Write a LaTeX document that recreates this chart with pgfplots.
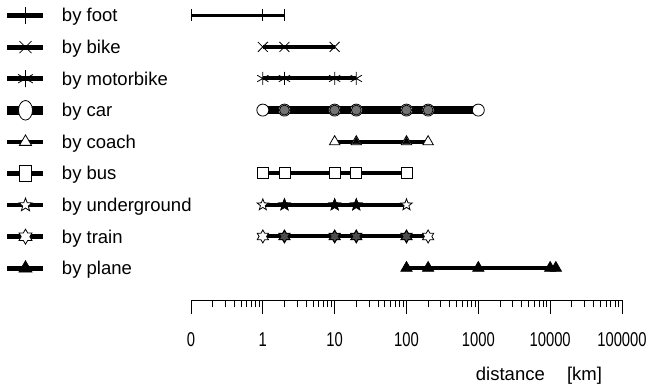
\documentclass[border=0pt]{standalone}
\usepackage{fontspec}
\setmainfont{Liberation Sans}
\usepackage{graphicx}
\usepackage{pgfplots}
\usepackage{pgfplotstable}
\pgfplotsset{compat=1.18}
\tikzset{mk/.style={solid, line width=0.8pt, draw=black}}

\pgfdeclareplotmark{star5}{%
  \pgfpathmoveto{\pgfpointpolar{90}{\pgfplotmarksize}}%
  \pgfpathlineto{\pgfpointpolar{126}{0.42\pgfplotmarksize}}%
  \pgfpathlineto{\pgfpointpolar{162}{\pgfplotmarksize}}%
  \pgfpathlineto{\pgfpointpolar{198}{0.42\pgfplotmarksize}}%
  \pgfpathlineto{\pgfpointpolar{234}{\pgfplotmarksize}}%
  \pgfpathlineto{\pgfpointpolar{270}{0.42\pgfplotmarksize}}%
  \pgfpathlineto{\pgfpointpolar{306}{\pgfplotmarksize}}%
  \pgfpathlineto{\pgfpointpolar{342}{0.42\pgfplotmarksize}}%
  \pgfpathlineto{\pgfpointpolar{18}{\pgfplotmarksize}}%
  \pgfpathlineto{\pgfpointpolar{54}{0.42\pgfplotmarksize}}%
  \pgfpathclose\pgfusepathqfillstroke}
\pgfdeclareplotmark{hexagram}{%
  \pgfpathmoveto{\pgfpointpolar{90}{\pgfplotmarksize}}%
  \pgfpathlineto{\pgfpointpolar{120}{0.577\pgfplotmarksize}}%
  \pgfpathlineto{\pgfpointpolar{150}{\pgfplotmarksize}}%
  \pgfpathlineto{\pgfpointpolar{180}{0.577\pgfplotmarksize}}%
  \pgfpathlineto{\pgfpointpolar{210}{\pgfplotmarksize}}%
  \pgfpathlineto{\pgfpointpolar{240}{0.577\pgfplotmarksize}}%
  \pgfpathlineto{\pgfpointpolar{270}{\pgfplotmarksize}}%
  \pgfpathlineto{\pgfpointpolar{300}{0.577\pgfplotmarksize}}%
  \pgfpathlineto{\pgfpointpolar{330}{\pgfplotmarksize}}%
  \pgfpathlineto{\pgfpointpolar{0}{0.577\pgfplotmarksize}}%
  \pgfpathlineto{\pgfpointpolar{30}{\pgfplotmarksize}}%
  \pgfpathlineto{\pgfpointpolar{60}{0.577\pgfplotmarksize}}%
  \pgfpathclose\pgfusepathqfillstroke}

% distance ranges, y = row (9 = top row)
\pgfplotstableread{
x y
0.1 9
1 9
2 9
}\foot
\pgfplotstableread{
x y
1 8
2 8
10 8
}\bike
\pgfplotstableread{
x y
1 7
2 7
10 7
20 7
}\motorbike
\pgfplotstableread{
x y
1 6
2 6
10 6
20 6
100 6
200 6
1000 6
}\car
\pgfplotstableread{
x y
10 5
20 5
100 5
200 5
}\coach
\pgfplotstableread{
x y
1 4
2 4
10 4
20 4
100 4
}\bus
\pgfplotstableread{
x y
1 3
2 3
10 3
20 3
100 3
}\underground
\pgfplotstableread{
x y
1 2
2 2
10 2
20 2
100 2
200 2
}\train
\pgfplotstableread{
x y
100 1
200 1
1000 1
10000 1
12000 1
}\plane

\newcommand\tl[1]{\scalebox{0.74}[1]{#1}}

\begin{document}
\begin{tikzpicture}
\begin{axis}[
  xmode=log, log basis x=10,
  scale only axis, width=431pt, height=300pt,
  xmin=0.1, xmax=100000, ymin=-0.02, ymax=9.475,
  axis x line*=bottom, axis y line=none,
  clip=false,
  xtick={0.1,1,10,100,1000,10000,100000},
  xticklabels={\tl{0},\tl{1},\tl{10},\tl{100},\tl{1000},\tl{10000},\tl{100000}},
  minor xtick={0.2,0.3,0.4,0.5,0.6,0.7,0.8,0.9,2,3,4,5,6,7,8,9,20,30,40,50,60,70,80,90,200,300,400,500,600,700,800,900,2000,3000,4000,5000,6000,7000,8000,9000,20000,30000,40000,50000,60000,70000,80000,90000},
  tick align=outside,
  major tick length=14pt, minor tick length=7pt,
  tick style={black, line width=0.8pt},
  x axis line style={line width=1pt, -},
  xticklabel style={anchor=base, yshift=-32pt, inner sep=0pt, font=\fontsize{20}{22}\selectfont},
  xlabel={distance\hspace{1.2em}[km]},
  xlabel style={at={(axis description cs:0.8074,0)}, anchor=base, yshift=-80pt, inner sep=0pt, font=\fontsize{18.5}{20}\selectfont},
  legend image code/.code={\draw[mark repeat=2,mark phase=2,#1] plot coordinates {(0pt,0.5pt) (18pt,0.5pt) (36pt,0.5pt)};},
  legend style={at={(axis description cs:-0.4362,1.001)}, anchor=north west, draw=none, fill=none, inner sep=0pt, outer sep=0pt, row sep=-0.4pt, column sep=14pt, font=\fontsize{18.5}{20}\selectfont, nodes={inner sep=0pt, text height=22pt, text depth=10pt}},
  legend cell align=left,
]
% ---------- data ----------
\addplot[forget plot, black, line width=3.5pt, mark=|, mark size=6pt, mark options={mk}] table {\foot};
\addplot[forget plot, black, line width=4pt, mark=x, mark size=7pt, mark options={mk}] table {\bike};
\addplot[forget plot, black, line width=4pt, mark=asterisk, mark size=6.5pt, mark options={mk}] table {\motorbike};
\addplot[forget plot, black, line width=8pt, mark=*, mark size=6pt, mark options={mk, fill=white}] table {\car};
\addplot[forget plot, only marks, mark=*, mark size=5pt, mark options={mk, fill=black!55}, mark indices={2,3,4,5,6}] table {\car};
\addplot[forget plot, black, line width=4pt, mark=triangle*, mark size=6pt, mark options={mk, fill=white}] table {\coach};
\addplot[forget plot, only marks, mark=triangle*, mark size=4pt, mark options={mk, fill=black}, mark indices={2,3}] table {\coach};
\addplot[forget plot, black, line width=4pt, mark=square*, mark size=5.5pt, mark options={mk, fill=white}] table {\bus};
\addplot[forget plot, black, line width=4pt, mark=star5, mark size=6pt, mark options={mk, fill=white}] table {\underground};
\addplot[forget plot, only marks, mark=star5, mark size=6pt, mark options={mk, fill=black}, mark indices={2,3,4}] table {\underground};
\addplot[forget plot, black, line width=4pt, mark=hexagram, mark size=6.5pt, mark options={mk, fill=white}] table {\train};
\addplot[forget plot, only marks, mark=hexagram, mark size=6pt, mark options={mk, fill=black!70}, mark indices={2,3,4,5}] table {\train};
\addplot[forget plot, black, line width=4pt, mark=triangle*, mark size=6.5pt, mark options={mk, fill=black}] table {\plane};
% ---------- legend ----------
\addlegendimage{black, line width=5pt, mark=|, mark size=8.5pt, mark options={mk}}
\addlegendentry{by foot}
\addlegendimage{black, line width=5pt, mark=x, mark size=8.5pt, mark options={mk}}
\addlegendentry{by bike}
\addlegendimage{black, line width=5pt, mark=asterisk, mark size=8.5pt, mark options={mk}}
\addlegendentry{by motorbike}
\addlegendimage{black, line width=9pt, mark=*, mark size=7pt, mark options={mk, fill=white, yscale=1.4}}
\addlegendentry{by car}
\addlegendimage{black, line width=4.5pt, mark=triangle*, mark size=7pt, mark options={mk, fill=white}}
\addlegendentry{by coach}
\addlegendimage{black, line width=4.5pt, mark=square*, mark size=6pt, mark options={mk, fill=white, yscale=1.35}}
\addlegendentry{by bus}
\addlegendimage{black, line width=4.5pt, mark=star5, mark size=7pt, mark options={mk, fill=white}}
\addlegendentry{by underground}
\addlegendimage{black, line width=4.5pt, mark=hexagram, mark size=7.5pt, mark options={mk, fill=white}}
\addlegendentry{by train}
\addlegendimage{black, line width=4.5pt, mark=triangle*, mark size=7.5pt, mark options={mk, fill=black}}
\addlegendentry{by plane}
\coordinate (A) at (axis cs:0.1,9.475);
\end{axis}
\path[use as bounding box] ([xshift=-191pt]A) rectangle ([xshift=460pt,yshift=-385pt]A);
\end{tikzpicture}
\end{document}
